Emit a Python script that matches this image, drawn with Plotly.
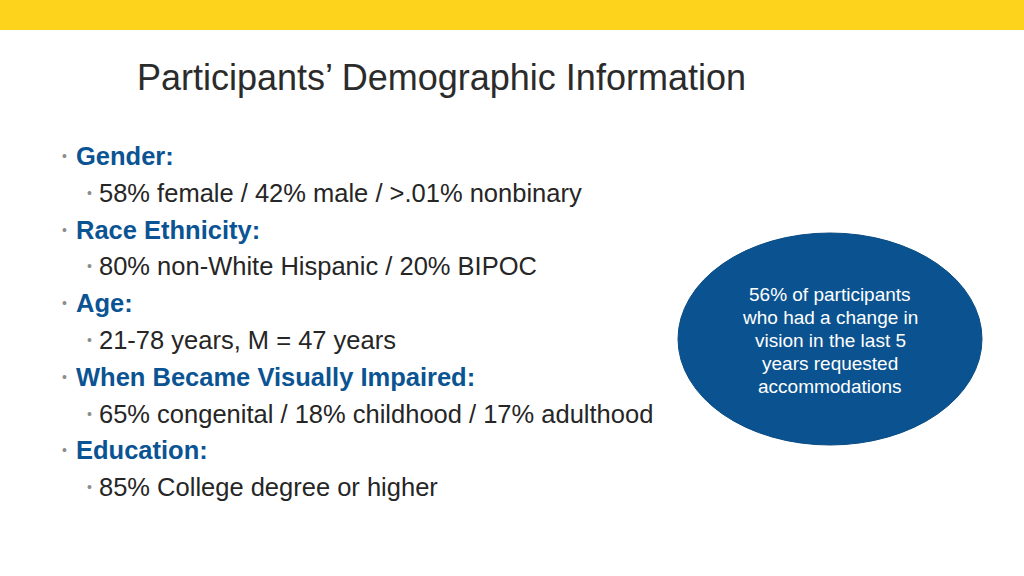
import plotly.graph_objects as go

title_text = "Participants\u2019 Demographic Information"
headers = ["Gender:", "Race Ethnicity:", "Age:", "When Became Visually Impaired:", "Education:"]
details = [
    "58% female / 42% male / >.01% nonbinary",
    "80% non-White Hispanic / 20% BIPOC",
    "21-78 years, M = 47 years",
    "65% congenital / 18% childhood / 17% adulthood",
    "85% College degree or higher",
]
callout_lines = [
    "56% of participants",
    "who had a change in",
    "vision in the last 5",
    "years requested",
    "accommodations",
]

W, H = 1024, 576
BLUE = "#0B5493"
DARK = "#262626"
GREY = "#8C8C8C"
FONT = "Liberation Sans, Arial, sans-serif"

fig = go.Figure()
fig.add_trace(go.Scatter(x=[0], y=[0], mode="markers", marker=dict(opacity=0), hoverinfo="skip", showlegend=False))

shapes = [
    dict(type="rect", x0=0, x1=W, y0=0, y1=30, fillcolor="#FDD31B", line=dict(width=0), layer="below"),
    dict(type="circle", x0=678, x1=982, y0=233, y1=445, fillcolor="#0B5390", line=dict(width=1, color="#0A4C84")),
]

ann = [dict(x=135, y=77, text=title_text, xanchor="left", yanchor="middle", showarrow=False,
            font=dict(family="Liberation Sans Narrow, Arial Narrow, Liberation Sans, sans-serif", size=36, color="#2B2B2B"))]

y0 = 156
step = 36.8
for i, (h, d) in enumerate(zip(headers, details)):
    yh = y0 + step * (2 * i)
    yd = y0 + step * (2 * i + 1)
    ann.append(dict(x=60, y=yh, text="\u2022", xanchor="left", yanchor="middle", showarrow=False,
                    font=dict(family=FONT, size=14, color=GREY)))
    ann.append(dict(x=74, y=yh, text="<b>" + h + "</b>", xanchor="left", yanchor="middle", showarrow=False,
                    font=dict(family=FONT, size=25.5, color=BLUE)))
    ann.append(dict(x=85, y=yd, text="\u2022", xanchor="left", yanchor="middle", showarrow=False,
                    font=dict(family=FONT, size=14, color=GREY)))
    ann.append(dict(x=97, y=yd, text=d, xanchor="left", yanchor="middle", showarrow=False,
                    font=dict(family=FONT, size=25.5, color=DARK)))

for j, line in enumerate(callout_lines):
    ann.append(dict(x=830, y=294 + 23 * j, text=line, xanchor="center", yanchor="middle", showarrow=False,
                    font=dict(family=FONT, size=19, color="white")))

fig.update_layout(
    width=W, height=H, margin=dict(l=0, r=0, t=0, b=0),
    paper_bgcolor="white", plot_bgcolor="white",
    xaxis=dict(range=[0, W], visible=False, fixedrange=True),
    yaxis=dict(range=[H, 0], visible=False, fixedrange=True),
    shapes=shapes, annotations=ann, showlegend=False,
)
fig.write_html("out.html", config={"displayModeBar": False},
               post_script="document.body.style.margin='0';document.body.style.overflow='hidden';")
